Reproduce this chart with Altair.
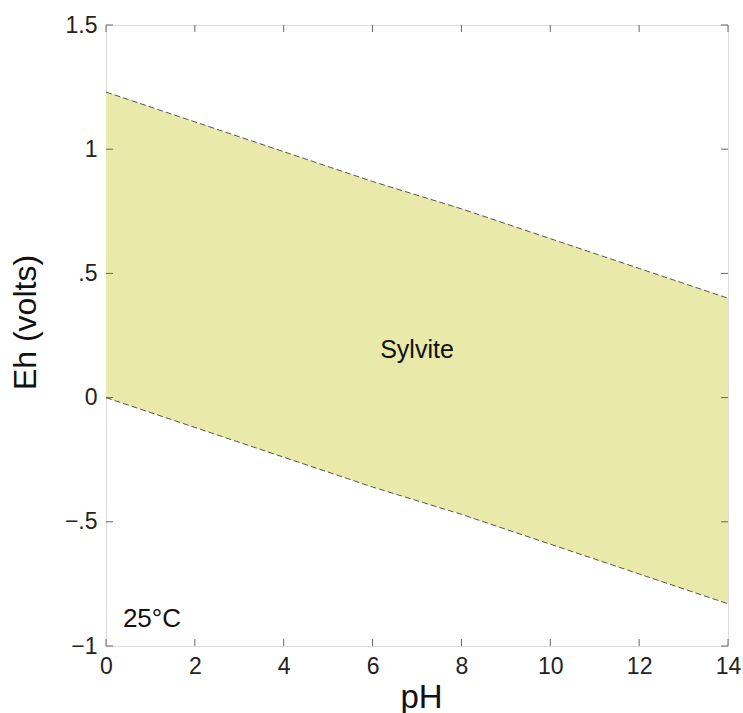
import altair as alt
import pandas as pd

# Data
ph = [0, 2, 4, 6, 8, 10, 12, 14]
eh_upper = [1.23, 1.11, 0.99, 0.87, 0.76, 0.64, 0.52, 0.40]
eh_lower = [0.0, -0.12, -0.24, -0.36, -0.47, -0.59, -0.71, -0.83]
x_ticks = [0, 2, 4, 6, 8, 10, 12, 14]
y_ticks = [-1, -0.5, 0, 0.5, 1, 1.5]
y_tick_labels = ["\u22121", "\u2212.5", "0", ".5", "1", "1.5"]
field_label = ["Sylvite"]
field_ph = [7]
field_eh = [0.19]
temp_label = ["25°C"]
temp_ph = [0.38]
temp_eh = [-0.925]

W, H = 622, 621
FONT = "Liberation Sans"
FILL = "#E9E9AA"
LINE = "#555555"

df = pd.DataFrame({"pH": ph, "upper": eh_upper, "lower": eh_lower})
xt = pd.DataFrame({"t": x_ticks})
yt = pd.DataFrame({"t": y_ticks})

xs = alt.Scale(domain=[0, 14], nice=False)
ys = alt.Scale(domain=[-1, 1.5], nice=False)

label_expr = " : ".join(
    f"datum.value == {v} ? '{l}'" for v, l in zip(y_ticks, y_tick_labels)
) + " : datum.label"

base = alt.Chart(df)

area = base.mark_area(color=FILL, opacity=1).encode(
    x=alt.X("pH:Q", scale=xs, axis=alt.Axis(
        values=x_ticks, ticks=False, domain=False, grid=False,
        labelFlush=False, labelOverlap=False, labelFontSize=23, labelFont=FONT,
        labelColor="#222222", labelPadding=9, title="pH", titleFont=FONT,
        titleFontSize=33, titleFontWeight="normal", titleColor="#111111",
        titleX=315, titleY=61, titleAlign="center", titleBaseline="alphabetic")),
    y=alt.Y("upper:Q", scale=ys, axis=alt.Axis(
        values=y_ticks, ticks=False, domain=False, grid=False,
        labelFlush=False, labelOverlap=False, labelFontSize=23, labelFont=FONT,
        labelColor="#222222", labelPadding=9, labelExpr=label_expr,
        title="Eh (volts)", titleFont=FONT, titleFontSize=32,
        titleFontWeight="normal", titleColor="#111111",
        titleX=-81, titleY=297, titleAngle=270, titleAlign="center",
        titleBaseline="middle")),
    y2="lower:Q",
)

dash = [6, 3]
upper_line = base.mark_line(color=LINE, strokeWidth=1, strokeDash=dash).encode(
    x=alt.X("pH:Q", scale=xs), y=alt.Y("upper:Q", scale=ys))
lower_line = base.mark_line(color=LINE, strokeWidth=1, strokeDash=dash).encode(
    x=alt.X("pH:Q", scale=xs), y=alt.Y("lower:Q", scale=ys))

tick_color = "#666666"
TL = 7
bottom_ticks = alt.Chart(xt).mark_rule(color=tick_color, strokeWidth=1).encode(
    x=alt.X("t:Q", scale=xs), y=alt.value(H), y2=alt.value(H - TL))
top_ticks = alt.Chart(xt).mark_rule(color=tick_color, strokeWidth=1).encode(
    x=alt.X("t:Q", scale=xs), y=alt.value(0), y2=alt.value(TL))
left_ticks = alt.Chart(yt).mark_rule(color=tick_color, strokeWidth=1).encode(
    y=alt.Y("t:Q", scale=ys), x=alt.value(0), x2=alt.value(TL))
right_ticks = alt.Chart(yt).mark_rule(color=tick_color, strokeWidth=1).encode(
    y=alt.Y("t:Q", scale=ys), x=alt.value(W), x2=alt.value(W - TL))

field_txt = alt.Chart(pd.DataFrame({"l": field_label, "x": field_ph, "y": field_eh})).mark_text(
    font=FONT, fontSize=25, color="#111111", align="center", baseline="middle").encode(
    x=alt.X("x:Q", scale=xs), y=alt.Y("y:Q", scale=ys), text="l:N")

temp_txt = alt.Chart(pd.DataFrame({"l": temp_label, "x": temp_ph, "y": temp_eh})).mark_text(
    font=FONT, fontSize=26, color="#111111", align="left", baseline="alphabetic").encode(
    x=alt.X("x:Q", scale=xs), y=alt.Y("y:Q", scale=ys), text="l:N")

chart = alt.layer(
    area, upper_line, lower_line,
    bottom_ticks, top_ticks, left_ticks, right_ticks,
    field_txt, temp_txt,
).properties(
    width=W, height=H,
    autosize=alt.AutoSizeParams(type="none"),
    padding={"left": 106, "top": 25, "right": 15, "bottom": 67},
).configure_view(
    stroke="#666666", strokeWidth=1.2
).configure(background="white")

chart.save("out.html", embed_options={"renderer": "svg", "actions": False})
